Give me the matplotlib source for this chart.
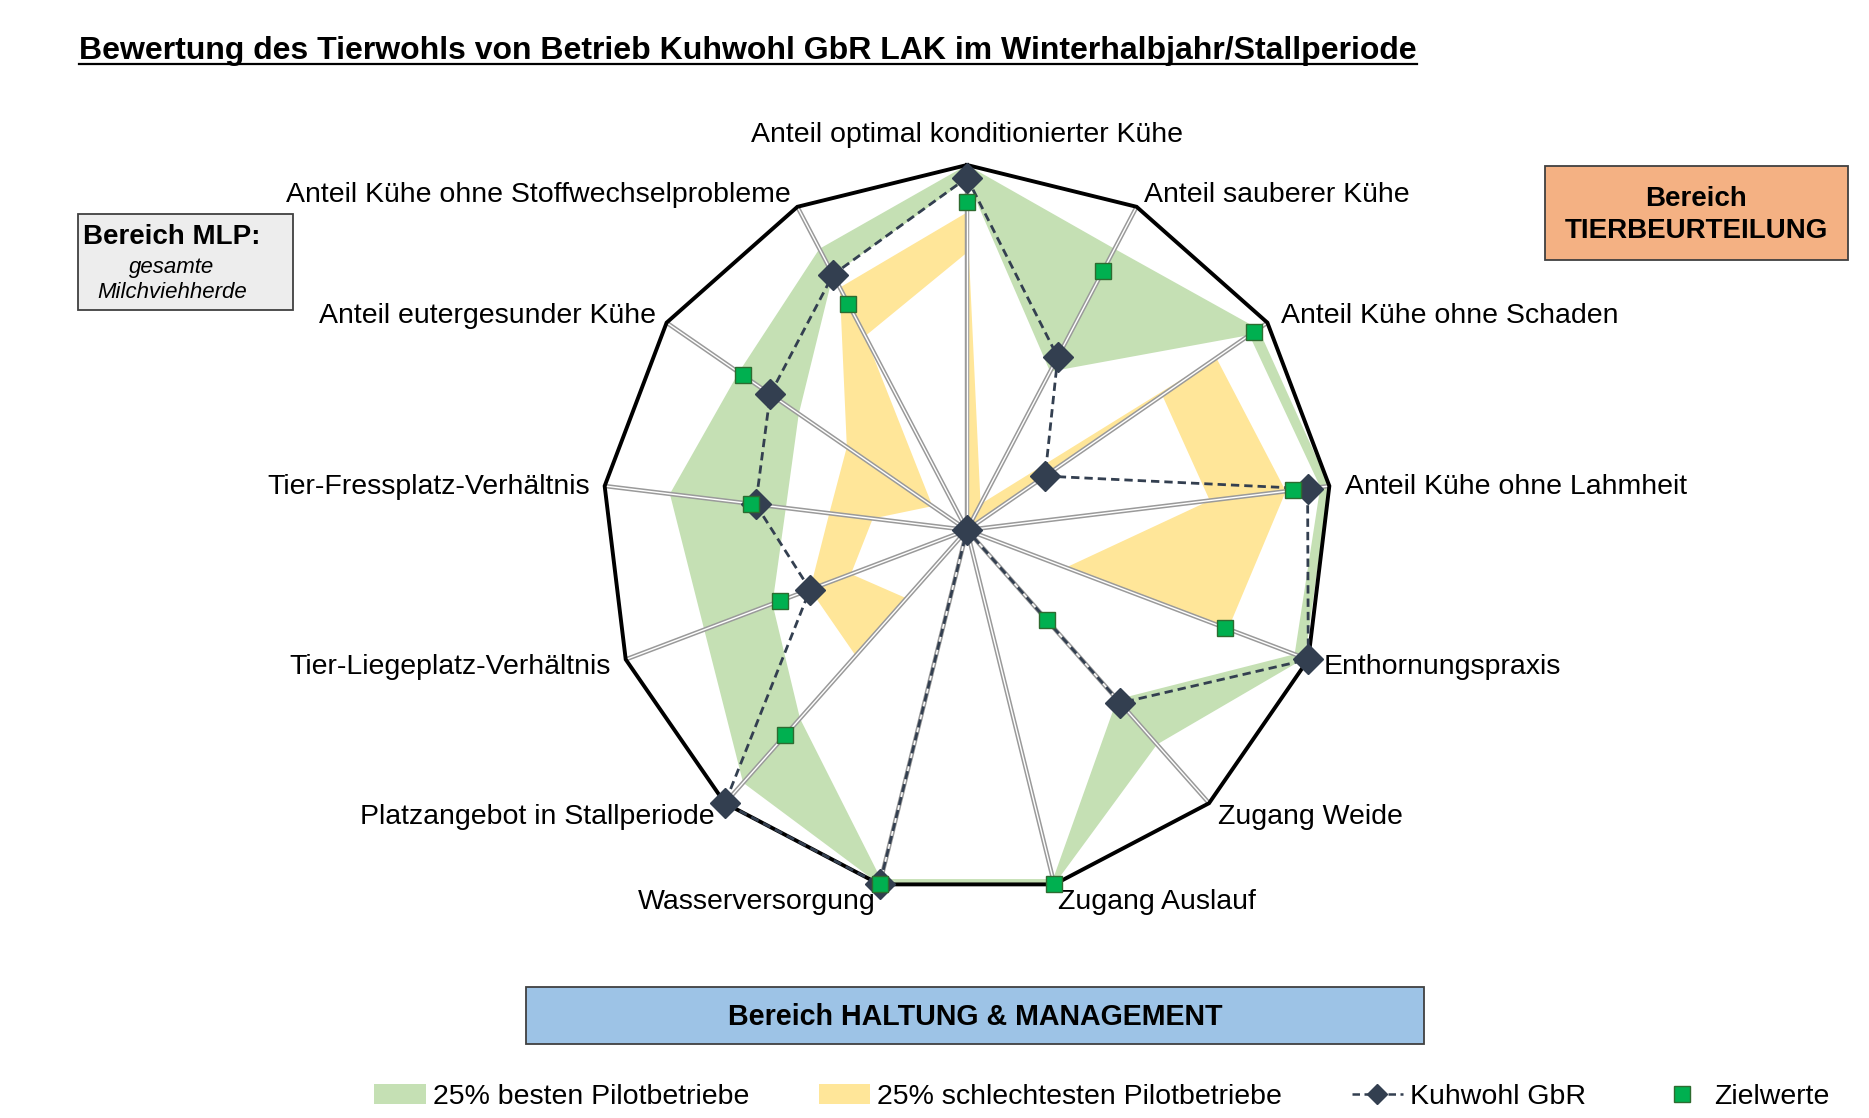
import numpy as np
import matplotlib
matplotlib.use("Agg")
import matplotlib.pyplot as plt
from matplotlib.path import Path
from matplotlib.patches import PathPatch, Rectangle, Patch
from matplotlib.lines import Line2D

plt.rcParams['font.family'] = ['Liberation Sans', 'DejaVu Sans']

# axes of the radar, clockwise from the top
categories = [
    "Anteil optimal konditionierter Kühe",
    "Anteil sauberer Kühe",
    "Anteil Kühe ohne Schaden",
    "Anteil Kühe ohne Lahmheit",
    "Enthornungspraxis",
    "Zugang Weide",
    "Zugang Auslauf",
    "Wasserversorgung",
    "Platzangebot in Stallperiode",
    "Tier-Liegeplatz-Verhältnis",
    "Tier-Fressplatz-Verhältnis",
    "Anteil eutergesunder Kühe",
    "Anteil Kühe ohne Stoffwechselprobleme",
]

# bands (upper / lower edge), 0..1
best_upper = [1.00, 0.87, 0.97, 1.00, 0.99, 0.785, 1.00, 1.00, 0.925, 0.77, 0.82, 0.76, 0.87]
best_lower = [0.96, 0.49, 0.94, 0.975, 0.96, 0.62, 0.985, 0.985, 0.69, 0.57, 0.50, 0.56, 0.79]
worst_upper = [0.87, 0.08, 0.83, 0.88, 0.765, 0.0, 0.0, 0.0, 0.46, 0.46, 0.38, 0.40, 0.75]
worst_lower = [0.76, 0.0, 0.65, 0.67, 0.29, 0.0, 0.0, 0.0, 0.25, 0.34, 0.26, 0.115, 0.60]

kuhwohl = [0.965, 0.535, 0.26, 0.94, 1.00, 0.633, 0.0, 1.00, 1.00, 0.46, 0.583, 0.655, 0.79]
zielwerte = [0.90, 0.80, 0.955, 0.90, 0.756, 0.33, 1.00, 1.00, 0.75, 0.547, 0.595, 0.747, 0.70]

legend_labels = ["25% besten Pilotbetriebe", "25% schlechtesten Pilotbetriebe",
                 "Kuhwohl GbR", "Zielwerte"]

GREEN = '#C5E0B4'
YELLOW = '#FFE699'
NAVY = '#333F50'
ZIEL = '#00B050'

W, H = 1869, 1118
n = len(categories)
angles = np.arange(n) * 2 * np.pi / n


def to_xy(values):
    v = np.asarray(values, dtype=float)
    return v * np.sin(angles), v * np.cos(angles)


def closed(a):
    return np.append(a, a[0])


def band(ax, upper, lower, color):
    xu, yu = to_xy(upper)
    xl, yl = to_xy(lower)
    outer = np.column_stack([xu, yu])
    inner = np.column_stack([xl, yl])[::-1]
    verts = np.concatenate([outer, outer[:1], inner, inner[:1]])
    codes = ([Path.MOVETO] + [Path.LINETO] * (n - 1) + [Path.CLOSEPOLY]) * 2
    ax.add_patch(PathPatch(Path(verts, codes), facecolor=color,
                           edgecolor='none', zorder=1))


def fx(px):
    return px / W


def fy(py):
    return 1 - py / H


fig = plt.figure(figsize=(W / 100, H / 100), dpi=100)

# radar axes: centre at (967, 530) px, radius 365 px
R = 365
lim = 1.3
side = 2 * lim * R
ax = fig.add_axes([fx(967 - side / 2), (H - 530 - side / 2) / H, side / W, side / H])
ax.set_xlim(-lim, lim)
ax.set_ylim(-lim, lim)
ax.axis('off')

band(ax, best_upper, best_lower, GREEN)
band(ax, worst_upper, worst_lower, YELLOW)

# spokes drawn as double lines
ex, ey = to_xy(np.ones(n))
for x, y in zip(ex, ey):
    ax.plot([0, x], [0, y], color='#9A9A9A', lw=3.2, solid_capstyle='butt', zorder=2)
    ax.plot([0, x], [0, y], color='white', lw=1.0, solid_capstyle='butt', zorder=2)

ax.plot(closed(ex), closed(ey), color='black', lw=2.8, solid_joinstyle='miter', zorder=3)

kx, ky = to_xy(kuhwohl)
ax.plot(closed(kx), closed(ky), color=NAVY, lw=2.0, ls=(0, (3.0, 1.8)), zorder=4)
ax.plot(kx, ky, ls='none', marker='D', ms=15, color=NAVY, zorder=5)

zx, zy = to_xy(zielwerte)
ax.plot(zx, zy, ls='none', marker='s', ms=12, mfc=ZIEL, mec='#2E6B30', mew=1.0, zorder=6)

# category labels: (ha, dx, dy) offset from the outer vertex in pixels
label_pos = [
    ('center', 0, 30), ('left', 7, 12), ('left', 14, 7), ('left', 16, -1),
    ('left', 15, -8), ('left', 9, -14), ('left', 4, -18), ('right', -4, -18),
    ('right', -10, -14), ('right', -15, -8), ('right', -15, -1), ('right', -11, 7),
    ('right', -7, 12),
]
for name, x, y, (ha, dx, dy) in zip(categories, ex, ey, label_pos):
    ax.annotate(name, xy=(x, y), xytext=(dx, dy), textcoords='offset pixels',
                ha=ha, va='center', fontsize=20.5, annotation_clip=False)

# title with underline
title = fig.text(fx(79), fy(59), "Bewertung des Tierwohls von Betrieb Kuhwohl GbR LAK im Winterhalbjahr/Stallperiode",
                 fontsize=23, fontweight='bold', ha='left', va='baseline')
fig.canvas.draw()
bb = title.get_window_extent()
fig.add_artist(Line2D([bb.x0 / W, bb.x1 / W], [fy(64)] * 2, transform=fig.transFigure,
                      color='black', lw=1.6))

# region boxes
def box(x0, y0, x1, y1, color):
    fig.add_artist(Rectangle((fx(x0), fy(y1)), (x1 - x0) / W, (y1 - y0) / H,
                             transform=fig.transFigure, facecolor=color,
                             edgecolor='#404040', lw=1.3))

box(78, 214, 293, 310, '#EDEDED')
fig.text(fx(83), fy(237), "Bereich MLP:", fontsize=20, fontweight='bold', ha='left', va='center')
fig.text(fx(172), fy(268), "gesamte", fontsize=16, style='italic', ha='center', va='center')
fig.text(fx(172), fy(293), "Milchviehherde", fontsize=16, style='italic', ha='center', va='center')

box(1545, 166, 1848, 260, '#F4B183')
fig.text(fx(1696), fy(199), "Bereich", fontsize=20, fontweight='bold', ha='center', va='center')
fig.text(fx(1696), fy(231), "TIERBEURTEILUNG", fontsize=20, fontweight='bold', ha='center', va='center')

box(526, 987, 1424, 1044, '#9DC3E6')
fig.text(fx(975), fy(1017), "Bereich HALTUNG & MANAGEMENT", fontsize=20.6, fontweight='bold',
         ha='center', va='center')

handles = [
    Patch(facecolor=GREEN, edgecolor='none'),
    Patch(facecolor=YELLOW, edgecolor='none'),
    Line2D([], [], color=NAVY, lw=1.8, ls=(0, (3.0, 1.8)), marker='D', ms=10),
    Line2D([], [], ls='none', marker='s', ms=11, mfc=ZIEL, mec='#2E6B30', mew=1.0),
]
fig.legend(handles, legend_labels, loc='center', bbox_to_anchor=(fx(1102), fy(1097)),
           ncol=4, frameon=False, fontsize=20.5, handlelength=1.8, handletextpad=0.25,
           columnspacing=2.45)

fig.savefig('out.png', dpi=100)
